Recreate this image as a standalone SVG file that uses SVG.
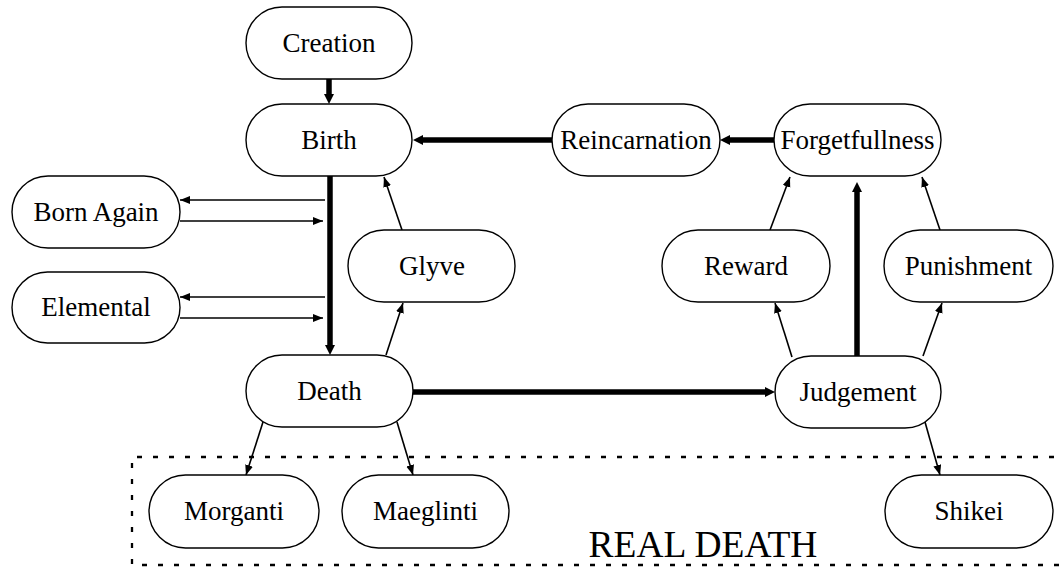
<svg xmlns="http://www.w3.org/2000/svg" width="1064" height="569" viewBox="0 0 1064 569">
<defs>
<marker id="thin" markerUnits="userSpaceOnUse" markerWidth="11" markerHeight="9" refX="10" refY="4" orient="auto"><path d="M0,0 L10,4 L0,8 z" fill="#000"/></marker>
<marker id="thick" markerUnits="userSpaceOnUse" markerWidth="12" markerHeight="12" refX="2" refY="5" orient="auto"><path d="M0,0 L10,5 L0,10 z" fill="#000"/></marker>
</defs>
<style>
.n rect{fill:#fff;stroke:#000;stroke-width:1.4}
.n text{font-family:"Liberation Serif","Times New Roman",serif;font-size:27px;text-anchor:middle;fill:#000}
.tk{stroke:#000;stroke-width:5.5;fill:none;marker-end:url(#thick)}
.tn{stroke:#000;stroke-width:1.6;fill:none;marker-end:url(#thin)}
.box{fill:none;stroke:#000;stroke-width:2.3;stroke-dasharray:5 11}
.lbl{font-family:"Liberation Serif","Times New Roman",serif;font-size:37.5px;fill:#000;text-anchor:middle}
</style>
<rect width="1064" height="569" fill="#fff"/>
<g id="realdeath">
<path class="box" d="M1070,457 L132,457 L132,565 L1070,565"/>
<text class="lbl" x="703" y="557">REAL DEATH</text>
</g>
<g id="connectors">
<line class="tk" x1="329" y1="79" x2="329" y2="96"/>
<line class="tk" x1="330" y1="176" x2="330" y2="347"/>
<line class="tk" x1="552" y1="140" x2="421" y2="140"/>
<line class="tk" x1="774" y1="140" x2="728" y2="140"/>
<line class="tk" x1="413" y1="392" x2="767" y2="392"/>
<line class="tk" x1="857" y1="356" x2="857" y2="190"/>
<line class="tn" x1="325" y1="200" x2="180" y2="200"/>
<line class="tn" x1="180" y1="221" x2="323" y2="221"/>
<line class="tn" x1="325" y1="297" x2="180" y2="297"/>
<line class="tn" x1="180" y1="318" x2="323" y2="318"/>
<line class="tn" x1="402" y1="230" x2="384" y2="177"/>
<line class="tn" x1="386" y1="355" x2="403" y2="303"/>
<line class="tn" x1="770" y1="230" x2="790" y2="177"/>
<line class="tn" x1="792" y1="357" x2="775" y2="303"/>
<line class="tn" x1="940" y1="230" x2="922" y2="177"/>
<line class="tn" x1="923" y1="356" x2="942" y2="303"/>
<line class="tn" x1="263" y1="422" x2="246" y2="475"/>
<line class="tn" x1="397" y1="422" x2="413" y2="475"/>
<line class="tn" x1="925" y1="422" x2="940" y2="475"/>
</g>
<g id="creation" class="n"><rect x="246" y="7" width="166" height="72" rx="36"/><text x="329" y="52">Creation</text></g>
<g id="birth" class="n"><rect x="246" y="104" width="166" height="72" rx="36"/><text x="329" y="149">Birth</text></g>
<g id="reincarnation" class="n"><rect x="552" y="104" width="168" height="72" rx="36"/><text x="636" y="149">Reincarnation</text></g>
<g id="forgetfullness" class="n"><rect x="774" y="104" width="167" height="72" rx="36"/><text x="857.5" y="149">Forgetfullness</text></g>
<g id="bornagain" class="n"><rect x="12" y="176" width="168" height="72" rx="36"/><text x="96" y="221">Born Again</text></g>
<g id="elemental" class="n"><rect x="12" y="272" width="168" height="71" rx="35.5"/><text x="96" y="316">Elemental</text></g>
<g id="glyve" class="n"><rect x="348" y="230" width="167" height="72" rx="36"/><text x="432" y="275">Glyve</text></g>
<g id="reward" class="n"><rect x="662" y="230" width="168" height="72" rx="36"/><text x="746" y="275">Reward</text></g>
<g id="punishment" class="n"><rect x="884" y="230" width="169" height="72" rx="36"/><text x="968.5" y="275">Punishment</text></g>
<g id="death" class="n"><rect x="246" y="355" width="167" height="72" rx="36"/><text x="329.5" y="400">Death</text></g>
<g id="judgement" class="n"><rect x="775" y="356" width="166" height="72" rx="36"/><text x="858" y="401">Judgement</text></g>
<g id="morganti" class="n"><rect x="149" y="475" width="170" height="73" rx="36.5"/><text x="234" y="520">Morganti</text></g>
<g id="maeglinti" class="n"><rect x="342" y="475" width="167" height="73" rx="36.5"/><text x="425.5" y="520">Maeglinti</text></g>
<g id="shikei" class="n"><rect x="885" y="475" width="168" height="73" rx="36.5"/><text x="969" y="520">Shikei</text></g>
</svg>
